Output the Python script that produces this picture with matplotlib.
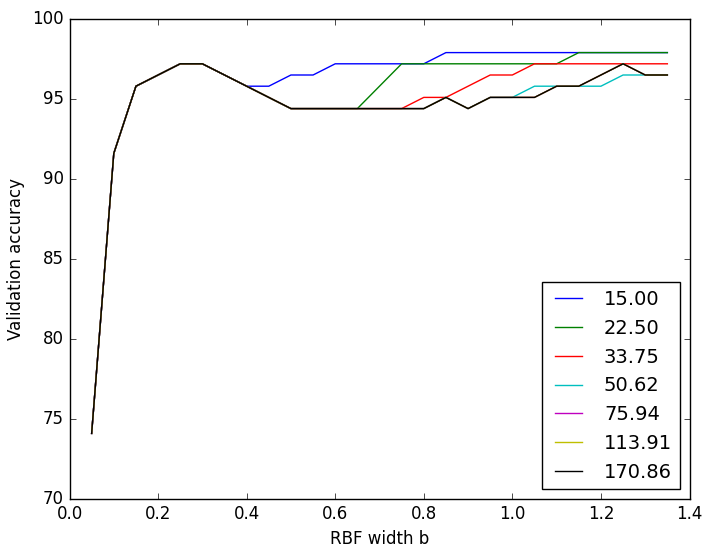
import matplotlib
matplotlib.use("Agg")
import matplotlib.pyplot as plt
import numpy as np

plt.style.use("classic")

widths = [0.05, 0.10, 0.15, 0.20, 0.25, 0.30, 0.35, 0.40, 0.45, 0.50, 0.55, 0.60, 0.65, 0.70,
          0.75, 0.80, 0.85, 0.90, 0.95, 1.00, 1.05, 1.10, 1.15, 1.20, 1.25, 1.30, 1.35]

labels = ["15.00", "22.50", "33.75", "50.62", "75.94", "113.91", "170.86"]
colors = ["b", "g", "r", "c", "m", "y", "k"]

acc_15_00 = [74.1, 91.6, 95.8, 96.5, 97.2, 97.2, 96.5, 95.8, 95.8, 96.5, 96.5, 97.2, 97.2, 97.2,
             97.2, 97.2, 97.9, 97.9, 97.9, 97.9, 97.9, 97.9, 97.9, 97.9, 97.9, 97.9, 97.9]
acc_22_50 = [74.1, 91.6, 95.8, 96.5, 97.2, 97.2, 96.5, 95.8, 95.1, 94.4, 94.4, 94.4, 94.4, 95.8,
             97.2, 97.2, 97.2, 97.2, 97.2, 97.2, 97.2, 97.2, 97.9, 97.9, 97.9, 97.9, 97.9]
acc_33_75 = [74.1, 91.6, 95.8, 96.5, 97.2, 97.2, 96.5, 95.8, 95.1, 94.4, 94.4, 94.4, 94.4, 94.4,
             94.4, 95.1, 95.1, 95.8, 96.5, 96.5, 97.2, 97.2, 97.2, 97.2, 97.2, 97.2, 97.2]
acc_50_62 = [74.1, 91.6, 95.8, 96.5, 97.2, 97.2, 96.5, 95.8, 95.1, 94.4, 94.4, 94.4, 94.4, 94.4,
             94.4, 94.4, 95.1, 94.4, 95.1, 95.1, 95.8, 95.8, 95.8, 95.8, 96.5, 96.5, 96.5]
acc_75_94 = [74.1, 91.6, 95.8, 96.5, 97.2, 97.2, 96.5, 95.8, 95.1, 94.4, 94.4, 94.4, 94.4, 94.4,
             94.4, 94.4, 95.1, 94.4, 95.1, 95.1, 95.1, 95.8, 95.8, 96.5, 97.2, 96.5, 96.5]
acc_113_91 = [74.1, 91.6, 95.8, 96.5, 97.2, 97.2, 96.5, 95.8, 95.1, 94.4, 94.4, 94.4, 94.4, 94.4,
              94.4, 94.4, 95.1, 94.4, 95.1, 95.1, 95.1, 95.8, 95.8, 96.5, 97.2, 96.5, 96.5]
acc_170_86 = [74.1, 91.6, 95.8, 96.5, 97.2, 97.2, 96.5, 95.8, 95.1, 94.4, 94.4, 94.4, 94.4, 94.4,
              94.4, 94.4, 95.1, 94.4, 95.1, 95.1, 95.1, 95.8, 95.8, 96.5, 97.2, 96.5, 96.5]

series = [acc_15_00, acc_22_50, acc_33_75, acc_50_62, acc_75_94, acc_113_91, acc_170_86]

fig = plt.figure(figsize=(7.11, 5.57), dpi=100, facecolor="white")
ax = fig.add_axes([69.5 / 711, 1 - 499 / 557, 620 / 711, 480 / 557])
for vals, lab, col in zip(series, labels, colors):
    ax.plot(widths, vals, color=col, label=lab, linewidth=1.0)

ax.set_xlim(0.0, 1.4)
ax.set_ylim(70, 100)
ax.tick_params(labelsize=12)
ax.set_xlabel("RBF width b", fontsize=12)
ax.set_ylabel("Validation accuracy", fontsize=12)
ax.legend(loc="lower right", fontsize=14)

fig.savefig("out.png", dpi=100, facecolor="white")
